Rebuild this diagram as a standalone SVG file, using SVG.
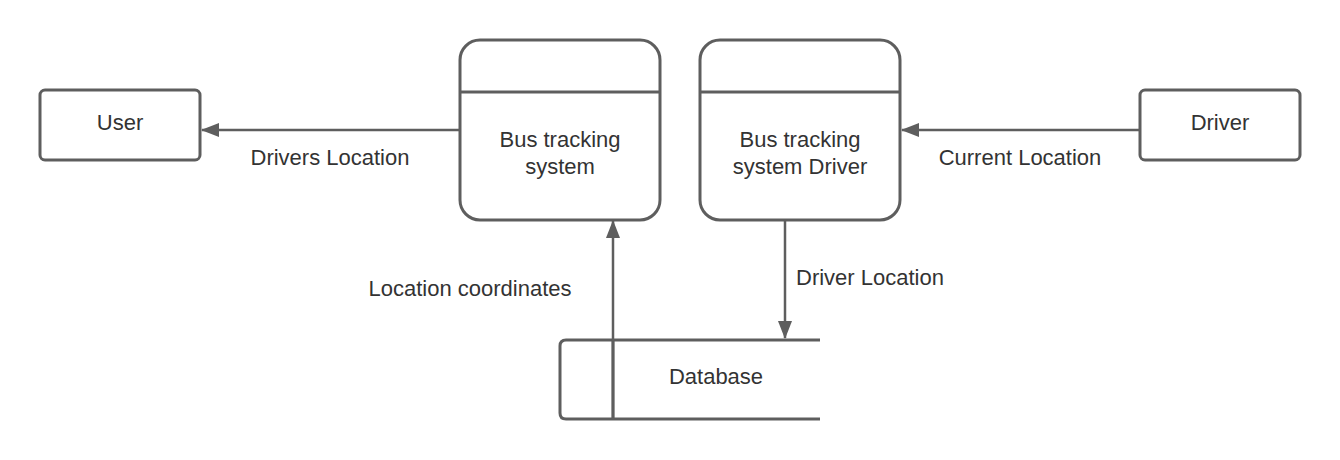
<svg xmlns="http://www.w3.org/2000/svg" width="1340" height="460" viewBox="0 0 1340 460">
  <style>
    .shape { fill: #ffffff; stroke: #5e5e5e; stroke-width: 3; }
    .line { fill: none; stroke: #5e5e5e; stroke-width: 3; }
    .conn { fill: none; stroke: #5e5e5e; stroke-width: 2.5; }
    text { font-family: "Liberation Sans", Arial, sans-serif; font-size: 22px; fill: #333333; }
    .c { text-anchor: middle; }
  </style>
  <defs>
    <marker id="arrow" viewBox="0 0 18 14" refX="17" refY="7" markerWidth="18" markerHeight="14" markerUnits="userSpaceOnUse" orient="auto">
      <path d="M0,0 L18,7 L0,14 Z" fill="#5e5e5e"/>
    </marker>
  </defs>
  <rect width="1340" height="460" fill="#ffffff"/>

  <g id="user">
    <rect class="shape" x="40" y="90" width="160" height="70" rx="5"/>
    <text class="c" x="120" y="130">User</text>
  </g>

  <g id="bus-tracking-system">
    <rect class="shape" x="460" y="40" width="200" height="180" rx="20"/>
    <line class="line" x1="460" y1="92" x2="660" y2="92"/>
    <text class="c" x="560" y="147">Bus tracking</text>
    <text class="c" x="560" y="174">system</text>
  </g>

  <g id="bus-tracking-system-driver">
    <rect class="shape" x="700" y="40" width="200" height="180" rx="20"/>
    <line class="line" x1="700" y1="92" x2="900" y2="92"/>
    <text class="c" x="800" y="147">Bus tracking</text>
    <text class="c" x="800" y="174">system Driver</text>
  </g>

  <g id="driver">
    <rect class="shape" x="1140" y="90" width="160" height="70" rx="5"/>
    <text class="c" x="1220" y="130">Driver</text>
  </g>

  <g id="database">
    <path class="line" d="M820,340 L566,340 Q560,340 560,346 L560,413 Q560,419 566,419 L820,419"/>
    <line class="line" x1="613" y1="340" x2="613" y2="419"/>
    <text class="c" x="716" y="384">Database</text>
  </g>

  <g id="connectors">
    <line class="conn" x1="460" y1="130" x2="202" y2="130" marker-end="url(#arrow)"/>
    <line class="conn" x1="1140" y1="130" x2="902" y2="130" marker-end="url(#arrow)"/>
    <line class="conn" x1="613" y1="419" x2="613" y2="221" marker-end="url(#arrow)"/>
    <line class="conn" x1="785" y1="220" x2="785" y2="338" marker-end="url(#arrow)"/>
    <text class="c" x="330" y="165">Drivers Location</text>
    <text class="c" x="1020" y="165">Current Location</text>
    <text class="c" x="470" y="296">Location coordinates</text>
    <text x="796" y="285">Driver Location</text>
  </g>
</svg>
